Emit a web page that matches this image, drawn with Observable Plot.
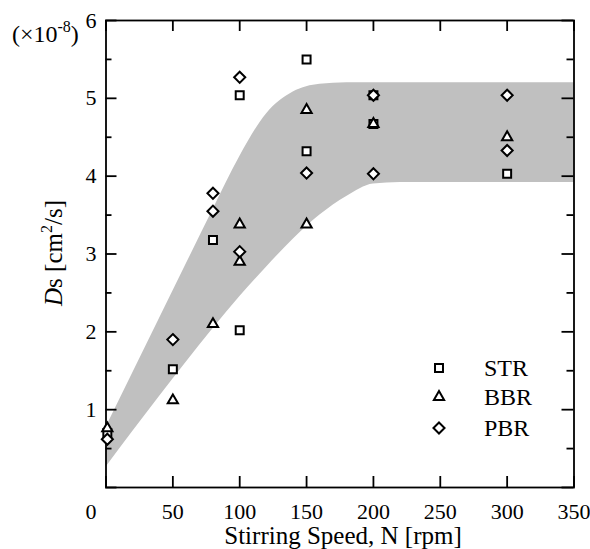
<!DOCTYPE html>
<html><head><meta charset="utf-8">
<script src="https://cdn.jsdelivr.net/npm/d3@7"></script>
<script src="https://cdn.jsdelivr.net/npm/@observablehq/plot@0.6"></script>
<style>
body{margin:0;background:#fff;}
#chart{position:relative;width:590px;height:549px;}
</style>
</head><body><div id="chart"></div>
<script>
// ---- data ----
const seriesNames = ["STR", "BBR", "PBR"];
const strSpeed = [1, 50, 80, 100, 100, 150, 150, 200, 200, 300];
const strDs    = [0.70, 1.52, 3.18, 5.04, 2.02, 5.50, 4.32, 5.04, 4.67, 4.03];
const bbrSpeed = [1, 50, 80, 100, 100, 150, 150, 200, 300];
const bbrDs    = [0.76, 1.12, 2.10, 3.38, 2.90, 4.85, 3.38, 4.67, 4.50];
const pbrSpeed = [1, 50, 80, 80, 100, 100, 150, 200, 200, 300, 300];
const pbrDs    = [0.62, 1.90, 3.78, 3.55, 5.27, 3.03, 4.04, 5.04, 4.03, 5.04, 4.33];
// shaded band (lower / upper envelope)
const bandSpeed = [0, 20, 40, 60, 80, 100, 120, 140, 160, 180, 200, 220, 350];
const bandLow   = [0.26, 0.72, 1.17, 1.61, 2.04, 2.45, 2.83, 3.19, 3.50, 3.74, 3.90, 3.92, 3.92];
const bandHigh  = [0.77, 1.47, 2.17, 2.87, 3.57, 4.25, 4.80, 5.08, 5.18, 5.20, 5.20, 5.20, 5.20];
// ticks
const xTicks = [0, 50, 100, 150, 200, 250, 300, 350];
const yMajor = [0, 1, 2, 3, 4, 5, 6];
const yMinor = [0.5, 1.5, 2.5, 3.5, 4.5, 5.5];

const FONT = "'Liberation Serif','Times New Roman',serif";
const W = 590, H = 549, mT = 20, mB = 62, mL = 105.5, mR = 16.5;
const plotW = W - mL - mR, plotH = H - mT - mB;

const zip = (xs, ys) => xs.map((x, i) => ({x, y: ys[i]}));
const strRows = zip(strSpeed, strDs);
const bbrRows = zip(bbrSpeed, bbrDs);
const pbrRows = zip(pbrSpeed, pbrDs);
const band = bandSpeed.map((x, i) => ({x, lo: bandLow[i], hi: bandHigh[i]}));

const symbols = {STR: "square", BBR: "triangle", PBR: "diamond2"};
const radii = {STR: 4.5, BBR: 3.8, PBR: 5};
const dotOpts = (name) => ({x: "x", y: "y", symbol: symbols[name], r: radii[name], stroke: "#000", strokeWidth: 2, fill: "#fff"});

const tickStyle = {stroke: "#000", strokeWidth: 1.8};
const fmt = d => String(d);

const svg = Plot.plot({
  width: W, height: H,
  marginTop: mT, marginBottom: mB, marginLeft: mL, marginRight: mR,
  style: {fontFamily: FONT, fontSize: "22px", color: "#000", background: "#fff", overflow: "visible"},
  x: {domain: [0, 350]},
  y: {domain: [0, 6]},
  marks: [
    Plot.areaY(band, {x: "x", y1: "lo", y2: "hi", curve: "monotone-x", fill: "#c0c0c0"}),
    // inward ticks
    Plot.tickX(xTicks, {x: d => d, insetTop: plotH - 11, ...tickStyle}),
    Plot.tickX(xTicks, {x: d => d, insetBottom: plotH - 11, ...tickStyle}),
    Plot.tickY(yMajor, {y: d => d, insetRight: plotW - 11, ...tickStyle}),
    Plot.tickY(yMinor, {y: d => d, insetRight: plotW - 6, ...tickStyle}),
    Plot.tickY(yMajor, {y: d => d, insetLeft: plotW - 12, ...tickStyle}),
    Plot.tickY(yMinor, {y: d => d, insetLeft: plotW - 7, ...tickStyle}),
    // tick labels
    Plot.axisX(xTicks.filter(d => d > 0), {anchor: "bottom", tickSize: 0, tickPadding: 16, label: null, fontSize: 22, tickFormat: fmt}),
    Plot.axisX([0], {anchor: "bottom", tickSize: 0, tickPadding: 16, label: null, dx: -15, fontSize: 22, tickFormat: fmt}),
    Plot.axisY(yMajor.filter(d => d > 0), {anchor: "left", tickSize: 0, tickPadding: 9.5, label: null, fontSize: 22, tickFormat: fmt}),
    Plot.frame({stroke: "#000", strokeWidth: 1.8}),
    Plot.dot(strRows, dotOpts("STR")),
    Plot.dot(bbrRows, dotOpts("BBR")),
    Plot.dot(pbrRows, dotOpts("PBR"))
  ]
});
document.getElementById("chart").appendChild(svg);

const s = d3.select(svg);
// y-axis title
const yt = s.append("text")
  .attr("transform", "translate(53,253) rotate(-90)")
  .attr("text-anchor", "middle").attr("dy", "0.35em")
  .attr("font-family", FONT).attr("font-size", 25).attr("fill", "#000");
yt.append("tspan").attr("font-style", "italic").text("D");
yt.append("tspan").text("s [cm");
yt.append("tspan").attr("font-size", 16).attr("dy", -10).text("2");
yt.append("tspan").attr("dy", 10).text("/s]");

// multiplier label
const mt = s.append("text").attr("x", 12).attr("y", 42)
  .attr("text-anchor", "start")
  .attr("font-family", FONT).attr("font-size", 24).attr("fill", "#000");
mt.append("tspan").text("(×10");
mt.append("tspan").attr("font-size", 16).attr("dy", -10).text("-8");
mt.append("tspan").attr("dy", 10).text(")");

// x-axis title
s.append("text").attr("x", 343).attr("y", 544)
  .attr("text-anchor", "middle")
  .attr("font-family", FONT).attr("font-size", 25).attr("fill", "#000")
  .text("Stirring Speed, N [rpm]");

// legend
const legY = [368, 397, 428];
const d3sym = {square: d3.symbolSquare, triangle: d3.symbolTriangle, diamond2: d3.symbolDiamond2};
seriesNames.forEach((name, i) => {
  const r = radii[name];
  s.append("path")
    .attr("transform", `translate(439,${legY[i]})`)
    .attr("d", d3.symbol(d3sym[symbols[name]], Math.PI * r * r)())
    .attr("fill", "#fff").attr("stroke", "#000").attr("stroke-width", 2);
  s.append("text").attr("x", 484).attr("y", legY[i]).attr("dy", "0.35em")
    .attr("text-anchor", "start")
    .attr("font-family", FONT).attr("font-size", 24).attr("fill", "#000")
    .text(name);
});
</script>
</body></html>
